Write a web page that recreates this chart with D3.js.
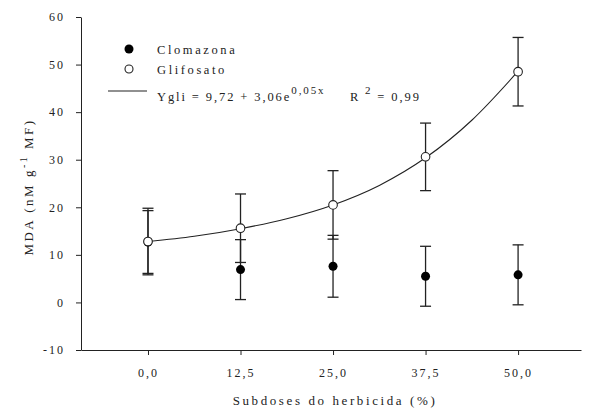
<!DOCTYPE html>
<html>
<head>
<meta charset="utf-8">
<script src="https://cdn.jsdelivr.net/npm/d3@7"></script>
<style>
  body { margin: 0; background: #fff; }
</style>
</head>
<body>
<svg id="chart" width="590" height="411"></svg>
<script>
// doses (%)
const doses = [0, 12.5, 25, 37.5, 50];
const doseLabels = ['0,0', '12,5', '25,0', '37,5', '50,0'];

// MDA means and error bars
const clomazona = [12.7, 6.9, 7.6, 5.5, 5.8];
const clomazonaErr = [6.6, 6.3, 6.5, 6.3, 6.3];
const glifosato = [12.8, 15.6, 20.5, 30.6, 48.5];
const glifosatoErr = [7.0, 7.2, 7.2, 7.1, 7.2];

// fitted curve as drawn
const curveX = [0, 6.25, 12.5, 18.75, 25, 31.25, 37.5, 43.75, 50];
const curveY = [12.8, 13.9, 15.5, 17.6, 20.5, 24.6, 30.4, 38.3, 48.6];

const yTicks = [-10, 0, 10, 20, 30, 40, 50, 60];

const FONT = '"Liberation Serif", "Times New Roman", Times, "DejaVu Serif", serif';
const svg = d3.select('#chart');

const x = d3.scaleLinear().domain([-9.05, 58.5]).range([81, 581]);
const y = d3.scaleLinear().domain([-10, 60]).range([350, 17]);

function txt(sel, size, spacing) {
  return sel.style('font-family', FONT)
    .attr('font-size', size)
    .attr('fill', '#222')
    .style('letter-spacing', spacing);
}

// y axis (plain hyphen for negatives, as in the original)
const yAxis = svg.append('g')
  .attr('transform', 'translate(81,0)')
  .call(d3.axisLeft(y).tickValues(yTicks).tickFormat(d => String(d)).tickSize(5).tickPadding(11).tickSizeOuter(0));
yAxis.select('.domain').attr('stroke', '#222');
yAxis.selectAll('.tick line').attr('stroke', '#222');
txt(yAxis.selectAll('.tick text'), 12, '2px');

// x axis
const xAxis = svg.append('g')
  .attr('transform', 'translate(0,350)')
  .call(d3.axisBottom(x).tickValues(doses).tickFormat((d, i) => doseLabels[i]).tickSize(5).tickPadding(13).tickSizeOuter(0));
xAxis.select('.domain').attr('stroke', '#222');
xAxis.selectAll('.tick line').attr('stroke', '#222');
txt(xAxis.selectAll('.tick text'), 12, '2px');

// axis titles
txt(svg.append('text'), 13, '2.6px')
  .attr('x', 335).attr('y', 405)
  .attr('text-anchor', 'middle')
  .text('Subdoses do herbicida (%)');

const yl = txt(svg.append('text'), 13, '2.5px')
  .attr('transform', 'translate(33,187) rotate(-90)')
  .attr('text-anchor', 'middle');
yl.append('tspan').text('MDA (nM g');
yl.append('tspan').attr('dy', -6).attr('font-size', 10).text('-1');
yl.append('tspan').attr('dy', 6).text(' MF)');

// fitted curve
const line = d3.line()
  .x((d, i) => x(curveX[i]))
  .y(d => y(d))
  .curve(d3.curveMonotoneX);
svg.append('path')
  .datum(curveY)
  .attr('d', line)
  .attr('fill', 'none')
  .attr('stroke', '#222')
  .attr('stroke-width', 1.1);

// error bars
function errorBars(vals, errs) {
  const g = svg.append('g').attr('stroke', '#222').attr('stroke-width', 1.3);
  vals.forEach((v, i) => {
    const cx = x(doses[i]);
    g.append('line').attr('x1', cx).attr('x2', cx).attr('y1', y(v - errs[i])).attr('y2', y(v + errs[i]));
    [v - errs[i], v + errs[i]].forEach(e => {
      g.append('line').attr('x1', cx - 5.5).attr('x2', cx + 5.5).attr('y1', y(e)).attr('y2', y(e));
    });
  });
}
errorBars(clomazona, clomazonaErr);
errorBars(glifosato, glifosatoErr);

// points
svg.append('g').selectAll('circle')
  .data(clomazona).join('circle')
  .attr('cx', (d, i) => x(doses[i]))
  .attr('cy', d => y(d))
  .attr('r', 4.5)
  .attr('fill', '#000');
svg.append('g').selectAll('circle')
  .data(glifosato).join('circle')
  .attr('cx', (d, i) => x(doses[i]))
  .attr('cy', d => y(d))
  .attr('r', 4.3)
  .attr('fill', '#fff')
  .attr('stroke', '#222')
  .attr('stroke-width', 1.1);

// legend
const lg = svg.append('g');
lg.append('circle').attr('cx', 129).attr('cy', 49).attr('r', 4.5).attr('fill', '#000');
lg.append('circle').attr('cx', 129).attr('cy', 69).attr('r', 4).attr('fill', '#fff').attr('stroke', '#222').attr('stroke-width', 1.1);
lg.append('line').attr('x1', 108).attr('x2', 147).attr('y1', 91).attr('y2', 91).attr('stroke', '#222').attr('stroke-width', 1.1);

txt(lg.append('text'), 12.5, '2.6px').attr('x', 157).attr('y', 54).text('Clomazona');
txt(lg.append('text'), 12.5, '2.6px').attr('x', 157).attr('y', 74).text('Glifosato');

const eq = txt(lg.append('text'), 12.5, '1.9px').attr('x', 157).attr('y', 101);
eq.append('tspan').text('Ygli = 9,72 + 3,06e');
eq.append('tspan').attr('dy', -7).attr('font-size', 11).text('0,05x');

const r2 = txt(lg.append('text'), 12.5, '1.9px').attr('x', 350).attr('y', 101);
r2.append('tspan').text('R');
r2.append('tspan').attr('dy', -7).attr('font-size', 11).text(' 2');
r2.append('tspan').attr('dy', 7).text(' = 0,99');
</script>
</body>
</html>
